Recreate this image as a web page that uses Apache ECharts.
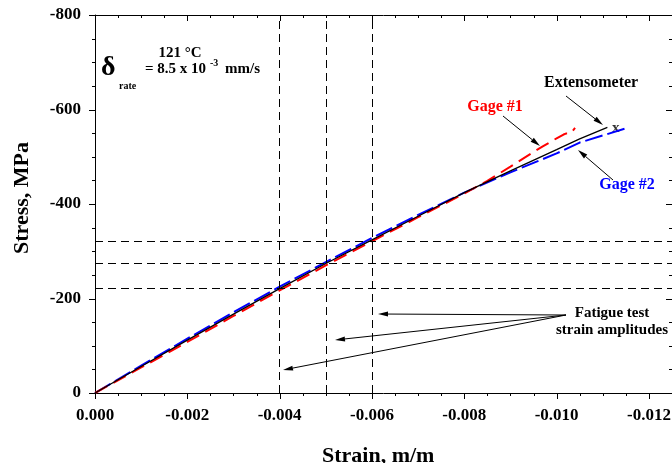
<!DOCTYPE html>
<html>
<head>
<meta charset="utf-8">
<script src="https://cdn.jsdelivr.net/npm/echarts@6/dist/echarts.min.js"></script>
<style>
  html, body { margin: 0; padding: 0; background: #fff; }
  #chartMain { width: 672px; height: 463px; }
</style>
</head>
<body>
<div id="chartMain"></div>
<script>
// data
var extStrain = [0, -0.0005, -0.001, -0.002, -0.003, -0.004, -0.005, -0.006, -0.007, -0.008, -0.009, -0.010, -0.0105, -0.0111];
var extStress = [0, -28, -56, -112, -167, -221, -274, -324, -374, -424, -470, -515, -538, -562];

var gage1Strain = [0, -0.001, -0.002, -0.003, -0.004, -0.005, -0.006, -0.007, -0.008, -0.0085, -0.009, -0.0095, -0.0097, -0.0100, -0.01015, -0.0102, -0.01025, -0.0103, -0.01035, -0.0104];
var gage1Stress = [0, -54, -108, -163, -217, -270, -321, -372, -422, -449, -479, -510, -522, -539, -547, -549, -549, -550, -555, -561];

var gage2Strain = [0, -0.001, -0.002, -0.003, -0.004, -0.005, -0.006, -0.007, -0.008, -0.009, -0.010, -0.0105, -0.011, -0.0115];
var gage2Stress = [0, -58, -115, -171, -225, -277, -328, -377, -424, -467, -507, -530, -545, -560];

var failStrain = [-0.01128];
var failStress = [-561];

// fatigue test strain amplitudes and matching stresses
var ampStrain = [-0.004, -0.005, -0.006];
var ampStress = [-221, -274, -322];

var xMajorTicks = [0, -0.002, -0.004, -0.006, -0.008, -0.010, -0.012];

var X_MIN = -0.0125, Y_MIN = -800;
var X_MINOR = 0.0005, Y_MINOR = 50;

function zip(a, b) {
    var out = [];
    for (var i = 0; i < a.length; i++) {
        out.push([a[i], b[i]]);
    }
    return out;
}

var FONT = 'Liberation Serif';

// tick list: [value, length] (major every 4th)
var xTicks = [];
for (var k = 0; k * X_MINOR <= -X_MIN + 1e-9; k++) {
    xTicks.push([-k * X_MINOR, (k % 4 === 0) ? 6 : 3]);
}
var yTicks = [];
for (var m = 0; m * Y_MINOR <= -Y_MIN; m++) {
    yTicks.push([0, -m * Y_MINOR, (m % 4 === 0) ? 6 : 3]);
}

// arrow drawn as line + small head, pixel coords
function arrow(x1, y1, x2, y2) {
    var dx = x2 - x1, dy = y2 - y1;
    var len = Math.sqrt(dx * dx + dy * dy);
    var ux = dx / len, uy = dy / len;
    var hl = 10, hw = 2.5;
    var bx = x2 - ux * hl, by = y2 - uy * hl;
    return [
        {
            type: 'line', z: 50,
            shape: { x1: x1, y1: y1, x2: bx, y2: by },
            style: { stroke: '#000', lineWidth: 1 }
        },
        {
            type: 'polygon', z: 50,
            shape: { points: [[x2, y2], [bx - uy * hw, by + ux * hw], [bx + uy * hw, by - ux * hw]] },
            style: { fill: '#000' }
        }
    ];
}

function txt(x, y, s, size, color, align) {
    return {
        type: 'text', z: 50, x: x, y: y,
        style: {
            text: s, fill: color || '#000',
            font: 'bold ' + size + 'px "' + FONT + '"',
            textAlign: align || 'left', textVerticalAlign: 'middle'
        }
    };
}

var graphics = [];
graphics.push(txt(180, 53, '121 °C', 15, '#000', 'center'));
graphics.push(txt(101, 68, 'δ', 28));
graphics.push(txt(119, 86, 'rate', 10));
graphics.push(txt(145, 69, '= 8.5 x 10', 15));
graphics.push(txt(210, 63, '-3', 10));
graphics.push(txt(225, 69, 'mm/s', 15));
graphics.push(txt(544, 83, 'Extensometer', 16));
graphics.push(txt(495, 107, 'Gage #1', 16, '#ff0000', 'center'));
graphics.push(txt(627, 185, 'Gage #2', 16, '#0000ff', 'center'));
graphics.push(txt(612, 313, 'Fatigue test', 15, '#000', 'center'));
graphics.push(txt(612, 330, 'strain amplitudes', 15, '#000', 'center'));
graphics = graphics
    .concat(arrow(566, 96, 603, 125))
    .concat(arrow(503, 116, 540, 146))
    .concat(arrow(613, 180, 578, 150))
    .concat(arrow(566, 315, 378, 314))
    .concat(arrow(566, 315, 335, 340))
    .concat(arrow(566, 315, 283, 370));

function lineOf() {
    return { show: true, onZero: false, lineStyle: { color: '#000', width: 1 } };
}

var tickStyle = { stroke: '#000', lineWidth: 1 };

// x ticks: outward at bottom, inward at top
function renderXTick(params, api) {
    var v = api.value(0), len = api.value(1);
    var b = api.coord([v, 0]);
    var t = api.coord([v, Y_MIN]);
    var x = Math.round(b[0]) + 0.5;
    return {
        type: 'group',
        children: [
            { type: 'line', shape: { x1: x, y1: b[1], x2: x, y2: b[1] + len }, style: tickStyle },
            { type: 'line', shape: { x1: x, y1: t[1], x2: x, y2: t[1] + len }, style: tickStyle }
        ]
    };
}

// y ticks: outward at left, inward at right
function renderYTick(params, api) {
    var v = api.value(1), len = api.value(2);
    var l = api.coord([0, v]);
    var r = api.coord([X_MIN, v]);
    var y = Math.round(l[1]) + 0.5;
    return {
        type: 'group',
        children: [
            { type: 'line', shape: { x1: l[0], y1: y, x2: l[0] - len, y2: y }, style: tickStyle },
            { type: 'line', shape: { x1: r[0], y1: y, x2: r[0] - len, y2: y }, style: tickStyle }
        ]
    };
}

// dashed guide lines, given as two end coords each
var markData = [];
for (var i = 0; i < ampStrain.length; i++) {
    markData.push([{ coord: [ampStrain[i], 0] }, { coord: [ampStrain[i], Y_MIN] }]);
}
for (var j = 0; j < ampStress.length; j++) {
    markData.push([{ coord: [0, ampStress[j]] }, { coord: [X_MIN, ampStress[j]] }]);
}

var option = {
    backgroundColor: '#fff',
    animation: false,
    grid: { left: 95, right: 0, top: 15, bottom: 70, outerBoundsMode: 'none' },
    xAxis: [
        {
            type: 'value', min: X_MIN, max: 0, inverse: true, position: 'bottom',
            axisLine: lineOf(), splitLine: { show: false }, axisTick: { show: false },
            axisLabel: {
                show: true, customValues: xMajorTicks, margin: 14,
                color: '#000', fontFamily: FONT, fontWeight: 'bold', fontSize: 17,
                formatter: function (v) { return v.toFixed(3); }
            }
        },
        {
            type: 'value', min: X_MIN, max: 0, inverse: true, position: 'top',
            axisLine: lineOf(), splitLine: { show: false }, axisTick: { show: false },
            axisLabel: { show: false }
        }
    ],
    yAxis: [
        {
            type: 'value', min: Y_MIN, max: 0, interval: 200, inverse: true, position: 'left',
            axisLine: lineOf(), splitLine: { show: false }, axisTick: { show: false },
            axisLabel: {
                show: true, margin: 14, color: '#000', fontFamily: FONT, fontWeight: 'bold', fontSize: 17,
                formatter: function (v) { return String(v); }
            }
        },
        {
            type: 'value', min: Y_MIN, max: 0, interval: 200, inverse: true, position: 'right',
            axisLine: lineOf(), splitLine: { show: false }, axisTick: { show: false },
            axisLabel: { show: false }
        }
    ],
    graphic: [
        {
            type: 'text', left: 322, top: 445,
            style: { text: 'Strain, m/m', fill: '#000', font: 'bold 22px "' + FONT + '"' }
        },
        {
            type: 'text', x: 22, y: 198, rotation: Math.PI / 2,
            style: { text: 'Stress, MPa', fill: '#000', font: 'bold 22px "' + FONT + '"', textAlign: 'center', textVerticalAlign: 'middle' }
        }
    ].concat(graphics),
    series: [
        {
            name: 'xTicks', type: 'custom', xAxisIndex: 0, yAxisIndex: 0,
            silent: true, clip: false, z: 10,
            data: xTicks, renderItem: renderXTick
        },
        {
            name: 'yTicks', type: 'custom', xAxisIndex: 0, yAxisIndex: 0,
            silent: true, clip: false, z: 10,
            data: yTicks, renderItem: renderYTick
        },
        {
            name: 'Gage #2', type: 'line', xAxisIndex: 0, yAxisIndex: 0,
            data: zip(gage2Strain, gage2Stress), showSymbol: false, symbol: 'none',
            lineStyle: { color: '#0000ff', width: 2, type: [18, 5] }
        },
        {
            name: 'Gage #1', type: 'line', xAxisIndex: 0, yAxisIndex: 0,
            data: zip(gage1Strain, gage1Stress), showSymbol: false, symbol: 'none',
            lineStyle: { color: '#ff0000', width: 2, type: [14, 7] }
        },
        {
            name: 'Extensometer', type: 'line', xAxisIndex: 0, yAxisIndex: 0,
            data: zip(extStrain, extStress), showSymbol: false, symbol: 'none',
            lineStyle: { color: '#000', width: 1.3 },
            markLine: {
                silent: true, symbol: 'none', animation: false,
                label: { show: false },
                lineStyle: { color: '#000', width: 1, type: [8, 5] },
                emphasis: { disabled: true },
                data: markData
            }
        },
        {
            name: 'failure', type: 'scatter', xAxisIndex: 0, yAxisIndex: 0,
            data: zip(failStrain, failStress), symbolSize: 1,
            itemStyle: { color: 'transparent' },
            label: {
                show: true, position: 'inside', formatter: 'x',
                color: '#000', fontFamily: FONT, fontWeight: 'bold', fontSize: 15
            }
        }
    ]
};

var mychart = echarts.init(document.getElementById('chartMain'));
mychart.setOption(option);
</script>
</body>
</html>
